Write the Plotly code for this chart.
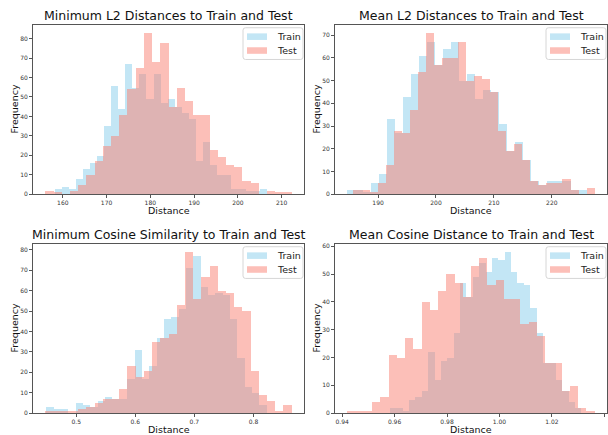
import numpy as np
import plotly.graph_objects as go

# ---------------- data (bin counts, 30 bins per series) ----------------
titles = ["Minimum L2 Distances to Train and Test",
          "Mean L2 Distances to Train and Test",
          "Minimum Cosine Similarity to Train and Test",
          "Mean Cosine Distance to Train and Test"]
series_names = ["Train", "Test"]

train_min_l2 = [3, 4, 3, 8, 13, 16, 20, 35, 56, 44, 67, 55, 62, 49, 62,
                47, 49, 45, 42, 39, 17, 27, 15, 10, 10, 3, 3, 2, 2, 3]
test_min_l2 = [2, 1, 0, 2, 5, 10, 17, 25, 30, 41, 54, 65, 83, 68, 78,
               45, 55, 48, 41, 41, 23, 19, 15, 14, 7, 6, 0, 2, 1, 1]
train_min_l2_range = [158.1, 206.6]
test_min_l2_range = [156.0, 212.3]

train_mean_l2 = [2, 2, 1, 5, 9, 33, 27, 43, 53, 61, 67, 57, 64, 67, 50,
                 53, 42, 46, 45, 31, 19, 23, 15, 6, 4, 6, 6, 6, 2, 2]
test_mean_l2 = [2, 2, 1, 5, 13, 28, 27, 37, 54, 71, 57, 60, 60, 67, 50,
                52, 51, 45, 28, 19, 22, 15, 6, 4, 5, 5, 7, 2, 0, 3]
train_mean_l2_range = [184.7, 226.1]
test_mean_l2_range = [185.75, 227.4]

train_min_cos = [3, 2, 2, 0, 5, 4, 3, 6, 8, 7, 7, 17, 31, 17, 23,
                 37, 46, 47, 51, 71, 77, 62, 58, 59, 58, 46, 27, 13, 10, 4]
test_min_cos = [1, 1, 1, 1, 2, 3, 5, 7, 7, 12, 23, 18, 21, 35, 37,
                39, 53, 79, 56, 67, 72, 60, 59, 52, 50, 21, 9, 6, 1, 4]
train_min_cos_range = [0.4495, 0.8225]
test_min_cos_range = [0.4478, 0.8646]

train_mean_cos = [2, 2, 1, 5, 6, 8, 22, 12, 19, 20, 29, 47, 42, 49, 54,
                  51, 56, 55, 58, 51, 47, 46, 38, 29, 18, 18, 12, 8, 4, 2]
test_mean_cos = [1, 1, 1, 4, 6, 21, 20, 27, 23, 40, 37, 44, 50, 47, 42,
                 53, 56, 46, 48, 41, 41, 32, 33, 28, 18, 18, 8, 10, 2, 1]
train_mean_cos_range = [0.9582, 1.0312]
test_mean_cos_range = [0.9420, 1.0363]

x_ticks = [[160, 170, 180, 190, 200, 210],
           [190, 200, 210, 220],
           [0.5, 0.6, 0.7, 0.8],
           [0.94, 0.96, 0.98, 1.00, 1.02, 1.04]]
x_ticklabels = [["160", "170", "180", "190", "200", "210"],
                ["190", "200", "210", "220"],
                ["0.5", "0.6", "0.7", "0.8"],
                ["0.94", "0.96", "0.98", "1.00", "1.02", "1.04"]]
y_ticks = [[0, 10, 20, 30, 40, 50, 60, 70, 80],
           [0, 10, 20, 30, 40, 50, 60, 70],
           [0, 10, 20, 30, 40, 50, 60, 70, 80],
           [0, 10, 20, 30, 40, 50, 60]]

panels = [
    (train_min_l2, train_min_l2_range, test_min_l2, test_min_l2_range),
    (train_mean_l2, train_mean_l2_range, test_mean_l2, test_mean_l2_range),
    (train_min_cos, train_min_cos_range, test_min_cos, test_min_cos_range),
    (train_mean_cos, train_mean_cos_range, test_mean_cos, test_mean_cos_range),
]

# ---------------- layout geometry (pixels) ----------------
W, H = 608, 435
FONT = "DejaVu Sans"
boxes = [(33, 304, 24, 195), (335, 607, 24, 195),
         (33, 304, 245, 416), (335, 607, 245, 416)]  # left, right, top, bottom

def px_x(v):
    return v / W

def px_y(v):
    return 1 - v / H

colors = ["#87CEEB", "#FA8072"]
legend_fill = ["rgba(135,206,235,0.5)", "rgba(250,128,114,0.5)"]

fig = go.Figure()
shapes = []

for k, (tr, trr, te, ter) in enumerate(panels):
    xa = "x" if k == 0 else f"x{k+1}"
    ya = "y" if k == 0 else f"y{k+1}"
    for j, (counts, rng) in enumerate([(tr, trr), (te, ter)]):
        n = len(counts)
        edges = np.linspace(rng[0], rng[1], n + 1)
        w = edges[1] - edges[0]
        fig.add_trace(go.Bar(
            x=edges[:-1], y=counts, width=[w] * n, offset=0,
            marker=dict(color=colors[j], line=dict(width=0)),
            opacity=0.5, name=series_names[j],
            xaxis=xa, yaxis=ya, showlegend=False,
            hoverinfo="skip",
        ))

    # axis ranges like matplotlib autoscale (5% x margin, 5% y headroom)
    lo = min(trr[0], ter[0]); hi = max(trr[1], ter[1])
    pad = (hi - lo) * 0.05
    ymax = max(max(tr), max(te)) * 1.05
    l, r, t, b = boxes[k]
    axis_common = dict(showline=True, linecolor="#555", linewidth=1, mirror=True,
                       ticks="outside", ticklen=3, tickwidth=0.8, tickcolor="#555",
                       showgrid=False, zeroline=False,
                       tickfont=dict(family=FONT, size=6, color="#333"))
    fig.update_layout(**{
        ("xaxis" if k == 0 else f"xaxis{k+1}"): dict(
            domain=[px_x(l), px_x(r)], anchor=ya, range=[lo - pad, hi + pad],
            tickvals=x_ticks[k], ticktext=x_ticklabels[k], **axis_common),
        ("yaxis" if k == 0 else f"yaxis{k+1}"): dict(
            domain=[px_y(b), px_y(t)], anchor=xa, range=[0, ymax],
            tickvals=y_ticks[k], **axis_common),
    })

    # matplotlib-style legend (rounded box, patch handles, labels)
    bl, br, bt, bb = r - 61, r - 1, t + 3, t + 35
    rad = 2.5
    path = (f"M {px_x(bl+rad)} {px_y(bt)} L {px_x(br-rad)} {px_y(bt)} "
            f"Q {px_x(br)} {px_y(bt)} {px_x(br)} {px_y(bt+rad)} "
            f"L {px_x(br)} {px_y(bb-rad)} Q {px_x(br)} {px_y(bb)} {px_x(br-rad)} {px_y(bb)} "
            f"L {px_x(bl+rad)} {px_y(bb)} Q {px_x(bl)} {px_y(bb)} {px_x(bl)} {px_y(bb-rad)} "
            f"L {px_x(bl)} {px_y(bt+rad)} Q {px_x(bl)} {px_y(bt)} {px_x(bl+rad)} {px_y(bt)} Z")
    shapes.append(dict(type="path", path=path, xref="paper", yref="paper",
                       fillcolor="rgba(255,255,255,0.8)",
                       line=dict(color="#d6d6d6", width=1), layer="above"))
    for j in range(2):
        cy = t + 12 + 14 * j
        shapes.append(dict(type="rect", xref="paper", yref="paper",
                           x0=px_x(r - 57), x1=px_x(r - 37),
                           y0=px_y(cy + 3.3), y1=px_y(cy - 3.3),
                           fillcolor=legend_fill[j], line=dict(width=0), layer="above"))
        fig.add_annotation(text=series_names[j], x=px_x(r - 29.5), y=px_y(cy),
                           xref="paper", yref="paper", xanchor="left", yanchor="middle",
                           showarrow=False,
                           font=dict(family=FONT, size=9.5, color="#222"))

    # title
    fig.add_annotation(text=titles[k], x=px_x((l + r) / 2), y=px_y(t - 9),
                       xref="paper", yref="paper", xanchor="center", yanchor="middle",
                       showarrow=False, font=dict(family=FONT, size=12.5, color="#111"))
    # axis labels
    fig.add_annotation(text="Frequency", x=px_x(l - 19), y=px_y((t + b) / 2),
                       xref="paper", yref="paper", xanchor="center", yanchor="middle",
                       textangle=-90, showarrow=False,
                       font=dict(family=FONT, size=9.5, color="#111"))
    fig.add_annotation(text="Distance", x=px_x((l + r) / 2), y=px_y(b + 16.5),
                       xref="paper", yref="paper", xanchor="center", yanchor="middle",
                       showarrow=False, font=dict(family=FONT, size=9.5, color="#111"))

fig.update_layout(
    width=W, height=H, margin=dict(l=0, r=0, t=0, b=0),
    paper_bgcolor="white", plot_bgcolor="white",
    barmode="overlay", bargap=0, showlegend=False,
    shapes=shapes,
    font=dict(family=FONT),
)

fig.write_html("out.html")
